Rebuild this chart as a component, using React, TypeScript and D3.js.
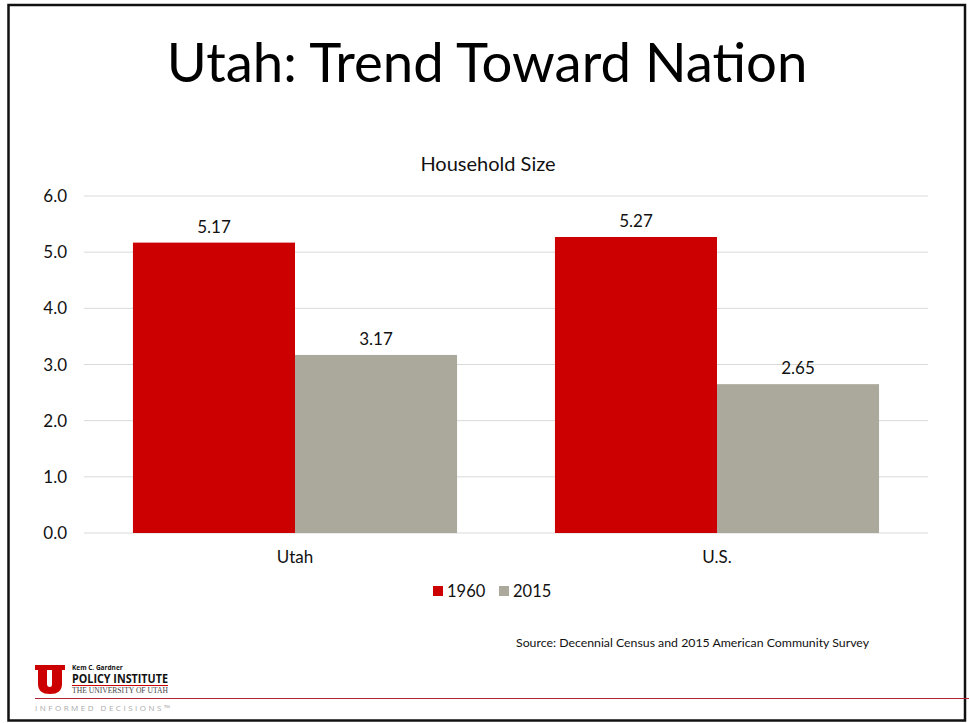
import React from "react";
import * as d3 from "d3";

const categories = ["Utah", "U.S."];
const seriesNames = ["1960", "2015"];
const values1960 = [5.17, 5.27];
const values2015 = [3.17, 2.65];
const yTicks = [0, 1, 2, 3, 4, 5, 6];
const colors = ["#CC0000", "#ABA99C"];

const W = 969;
const H = 723;
const FONT = "Lato, 'Open Sans', sans-serif";

export default function App() {
  const x0 = d3.scaleBand<string>().domain(categories).range([84, 928]).paddingInner(0.232).paddingOuter(0.116);
  const x1 = d3.scaleBand<string>().domain(seriesNames).range([0, x0.bandwidth()]);
  const y = d3.scaleLinear().domain([0, 6]).range([533, 196]);
  const series = [values1960, values2015];

  return (
    <svg width={W} height={H} style={{ position: "absolute", left: 0, top: 0, background: "#fff" }} fontFamily={FONT}>
      <rect x={0} y={0} width={W} height={H} fill="#fff" />
      {/* frame */}
      <rect x={8.5} y={5} width={956.5} height={715.5} fill="none" stroke="#111" strokeWidth={2.5} />
      {/* title */}
      <text x={487} y={82} textAnchor="middle" fontSize={54.5} fill="#000" fontFamily={FONT}>
        Utah: Trend Toward Nation
      </text>
      <text x={488} y={171} textAnchor="middle" fontSize={20} fill="#111">
        Household Size
      </text>
      {/* grid */}
      {yTicks.map((t) => (
        <g key={t}>
          <line x1={84} x2={928} y1={y(t)} y2={y(t)} stroke="#D9D9D9" strokeWidth={1} />
          <text x={67} y={y(t) + 6} textAnchor="end" fontSize={17} fill="#111">
            {d3.format(".1f")(t)}
          </text>
        </g>
      ))}
      {/* bars */}
      {categories.map((c, ci) => (
        <g key={c} transform={`translate(${x0(c)},0)`}>
          {seriesNames.map((s, si) => {
            const v = series[si][ci];
            return (
              <g key={s}>
                <rect x={x1(s)} y={y(v)} width={x1.bandwidth()} height={y(0) - y(v)} fill={colors[si]} />
                <text x={(x1(s) as number) + x1.bandwidth() / 2} y={y(v) - 10} textAnchor="middle" fontSize={17} fill="#111">
                  {d3.format(".2f")(v)}
                </text>
              </g>
            );
          })}
          <text x={x0.bandwidth() / 2} y={563} textAnchor="middle" fontSize={17} fill="#111">
            {c}
          </text>
        </g>
      ))}
      {/* legend */}
      {seriesNames.map((s, i) => (
        <g key={s} transform={`translate(${433 + i * 66},586)`}>
          <rect x={0} y={0} width={10} height={10} fill={colors[i]} />
          <text x={14} y={11} fontSize={16.5} fill="#111">{s}</text>
        </g>
      ))}
      {/* source */}
      <text x={869} y={647} textAnchor="end" fontSize={12.3} fill="#111">
        Source: Decennial Census and 2015 American Community Survey
      </text>
      {/* logo */}
      <line x1={35} x2={969} y1={698.5} y2={698.5} stroke="#B22234" strokeWidth={1} />
      <path
        d="M35,665 H50 V670 H47 V684 Q47,687 50,687 Q52,687 52,684 V670 H50 V665 H65 V670 H62 V684 Q62,694 50,694 Q38,694 38,684 V670 H35 Z"
        fill="#CC0000"
      />
      <text x={72} y={670} fontSize={6.5} fontWeight="bold" fill="#111" fontFamily="'Open Sans', sans-serif">Kem C. Gardner</text>
      <text x={72} y={683} fontSize={11.5} fontWeight="bold" fill="#111" fontFamily="'Open Sans', sans-serif" textLength={96} lengthAdjust="spacingAndGlyphs">POLICY INSTITUTE</text>
      <line x1={72} x2={168} y1={685.5} y2={685.5} stroke="#CC0000" strokeWidth={1} />
      <text x={72} y={693} fontSize={7.5} fill="#444" fontFamily="'Liberation Serif', serif" textLength={96} lengthAdjust="spacingAndGlyphs">THE UNIVERSITY OF UTAH</text>
      <text x={35} y={711} fontSize={8} fill="#aaa" fontFamily="'Open Sans', sans-serif" textLength={135} lengthAdjust="spacing">INFORMED DECISIONS™</text>
    </svg>
  );
}
